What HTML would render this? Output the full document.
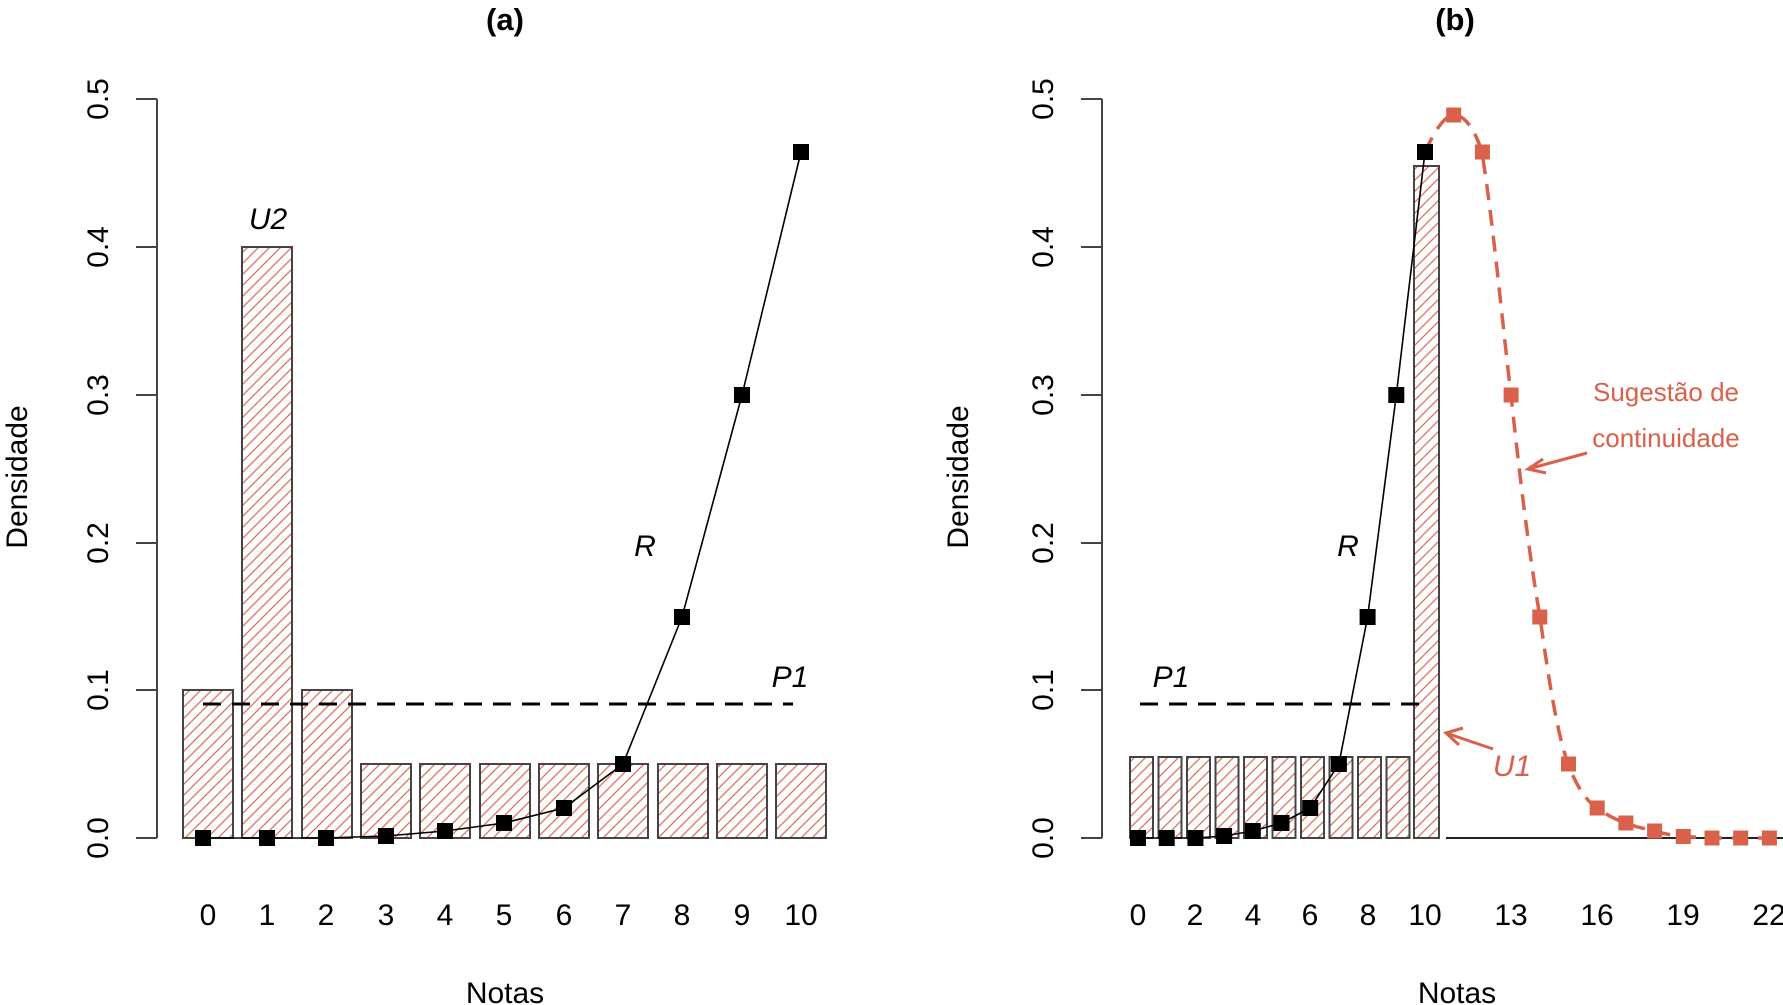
<!DOCTYPE html>
<html><head><meta charset="utf-8"><style>
html,body{margin:0;padding:0;background:#fff;}
svg{display:block;font-family:"Liberation Sans",Arial,sans-serif;}
</style></head><body>
<svg width="1783" height="1005" viewBox="0 0 1783 1005" xmlns="http://www.w3.org/2000/svg">
<defs>
<pattern id="h" patternUnits="userSpaceOnUse" width="11" height="11">
<path d="M0,11 L11,0 M-3,3 L3,-3 M8,14 L14,8" stroke="#e0705c" stroke-width="1.3"/>
</pattern>
</defs>
<!-- Panel A -->
<text x="505" y="30" font-size="31" font-weight="bold" text-anchor="middle">(a)</text>
<g stroke="#444" stroke-width="2" fill="none">
<line x1="157" y1="99" x2="157" y2="838"/>
<line x1="136" y1="838" x2="157" y2="838"/><line x1="136" y1="690" x2="157" y2="690"/>
<line x1="136" y1="543" x2="157" y2="543"/><line x1="136" y1="395" x2="157" y2="395"/>
<line x1="136" y1="247" x2="157" y2="247"/><line x1="136" y1="99" x2="157" y2="99"/>
</g>
<g font-size="30" text-anchor="middle">
<text transform="translate(108,838) rotate(-90)">0.0</text>
<text transform="translate(108,690) rotate(-90)">0.1</text>
<text transform="translate(108,543) rotate(-90)">0.2</text>
<text transform="translate(108,395) rotate(-90)">0.3</text>
<text transform="translate(108,247) rotate(-90)">0.4</text>
<text transform="translate(108,99) rotate(-90)">0.5</text>
<text transform="translate(27,477) rotate(-90)">Densidade</text>
</g>
<g fill="url(#h)" stroke="#444" stroke-width="2">
<rect x="183" y="690" width="50" height="148"/>
<rect x="242" y="247" width="50" height="591"/>
<rect x="302" y="690" width="50" height="148"/>
<rect x="361" y="764" width="50" height="74"/>
<rect x="420" y="764" width="50" height="74"/>
<rect x="480" y="764" width="50" height="74"/>
<rect x="539" y="764" width="50" height="74"/>
<rect x="598" y="764" width="50" height="74"/>
<rect x="658" y="764" width="50" height="74"/>
<rect x="717" y="764" width="50" height="74"/>
<rect x="776" y="764" width="50" height="74"/>
</g>
<line x1="203" y1="704" x2="793" y2="704" stroke="#000" stroke-width="3" stroke-dasharray="18,11"/>
<polyline fill="none" stroke="#000" stroke-width="1.6" points="203,838 267,838 326,838 386,836 445,831 504,823 564,808 623,764 682,617 742,395 801,152"/>
<g fill="#000">
<rect x="195" y="830" width="16" height="16"/><rect x="259" y="830" width="16" height="16"/>
<rect x="318" y="830" width="16" height="16"/><rect x="378" y="828" width="16" height="16"/>
<rect x="437" y="823" width="16" height="16"/><rect x="496" y="815" width="16" height="16"/>
<rect x="556" y="800" width="16" height="16"/><rect x="615" y="756" width="16" height="16"/>
<rect x="674" y="609" width="16" height="16"/><rect x="734" y="387" width="16" height="16"/>
<rect x="793" y="144" width="16" height="16"/>
</g>
<g font-size="30" font-style="italic" text-anchor="middle">
<text x="268" y="229">U2</text><text x="645" y="556">R</text><text x="790" y="687">P1</text>
</g>
<g font-size="30" text-anchor="middle">
<text x="208" y="925">0</text><text x="267" y="925">1</text><text x="326" y="925">2</text>
<text x="386" y="925">3</text><text x="445" y="925">4</text><text x="504" y="925">5</text>
<text x="564" y="925">6</text><text x="623" y="925">7</text><text x="682" y="925">8</text>
<text x="742" y="925">9</text><text x="801" y="925">10</text>
<text x="505" y="1003">Notas</text>
</g>
<!-- Panel B -->
<text x="1455" y="30" font-size="31" font-weight="bold" text-anchor="middle">(b)</text>
<g stroke="#444" stroke-width="2" fill="none">
<line x1="1102" y1="99" x2="1102" y2="838"/>
<line x1="1081" y1="838" x2="1102" y2="838"/><line x1="1081" y1="690" x2="1102" y2="690"/>
<line x1="1081" y1="543" x2="1102" y2="543"/><line x1="1081" y1="395" x2="1102" y2="395"/>
<line x1="1081" y1="247" x2="1102" y2="247"/><line x1="1081" y1="99" x2="1102" y2="99"/>
</g>
<g font-size="30" text-anchor="middle">
<text transform="translate(1053,838) rotate(-90)">0.0</text>
<text transform="translate(1053,690) rotate(-90)">0.1</text>
<text transform="translate(1053,543) rotate(-90)">0.2</text>
<text transform="translate(1053,395) rotate(-90)">0.3</text>
<text transform="translate(1053,247) rotate(-90)">0.4</text>
<text transform="translate(1053,99) rotate(-90)">0.5</text>
<text transform="translate(968,477) rotate(-90)">Densidade</text>
</g>
<g fill="url(#h)" stroke="#444" stroke-width="2">
<rect x="1130" y="757" width="23" height="81"/>
<rect x="1158.5" y="757" width="23" height="81"/>
<rect x="1187" y="757" width="23" height="81"/>
<rect x="1215.5" y="757" width="23" height="81"/>
<rect x="1244" y="757" width="23" height="81"/>
<rect x="1272.5" y="757" width="23" height="81"/>
<rect x="1301" y="757" width="23" height="81"/>
<rect x="1329.5" y="757" width="23" height="81"/>
<rect x="1358" y="757" width="23" height="81"/>
<rect x="1386.5" y="757" width="23" height="81"/>
<rect x="1414" y="166" width="25" height="672"/>
</g>
<line x1="1446" y1="838" x2="1783" y2="838" stroke="#222" stroke-width="2"/>
<line x1="1140" y1="704" x2="1425" y2="704" stroke="#000" stroke-width="3" stroke-dasharray="18,11"/>
<path fill="none" stroke="#d9604a" stroke-width="3.5" stroke-dasharray="16,10" d="M1425,152 C1435,130 1445,115 1454,115 C1465,115 1475,130 1482,152 C1494,230 1502,320 1511,395 C1520,480 1530,560 1540,617 C1550,690 1558,735 1568,764 C1578,790 1588,802 1597,808 C1607,815 1616,820 1626,823 C1636,827 1645,829 1655,831 C1665,834 1675,836 1683,836.5 L1712,838 L1769,838"/>
<polyline fill="none" stroke="#000" stroke-width="1.6" points="1138,838 1166.7,838 1195.4,838 1224.1,836 1252.8,831 1281.5,823 1310.2,808 1338.9,764 1367.6,617 1396.3,395 1425,152"/>
<g fill="#000">
<rect x="1130" y="830" width="16" height="16"/><rect x="1158.7" y="830" width="16" height="16"/>
<rect x="1187.4" y="830" width="16" height="16"/><rect x="1216.1" y="828" width="16" height="16"/>
<rect x="1244.8" y="823" width="16" height="16"/><rect x="1273.5" y="815" width="16" height="16"/>
<rect x="1302.2" y="800" width="16" height="16"/><rect x="1330.9" y="756" width="16" height="16"/>
<rect x="1359.6" y="609" width="16" height="16"/><rect x="1388.3" y="387" width="16" height="16"/>
<rect x="1417" y="144" width="16" height="16"/>
</g>
<g fill="#d9604a">
<rect x="1446.2" y="107.5" width="15" height="15"/><rect x="1474.9" y="144.5" width="15" height="15"/>
<rect x="1503.6" y="387.5" width="15" height="15"/><rect x="1532.3" y="609.5" width="15" height="15"/>
<rect x="1561" y="756.5" width="15" height="15"/><rect x="1589.7" y="800.5" width="15" height="15"/>
<rect x="1618.4" y="815.5" width="15" height="15"/><rect x="1647.1" y="823.5" width="15" height="15"/>
<rect x="1675.8" y="829" width="15" height="15"/><rect x="1704.5" y="830.5" width="15" height="15"/>
<rect x="1733.2" y="830.5" width="15" height="15"/><rect x="1761.9" y="830.5" width="15" height="15"/>
</g>
<g stroke="#d9604a" stroke-width="3" fill="none">
<line x1="1493" y1="749" x2="1446" y2="733"/><polyline points="1463,728 1446,733 1459,745"/>
<line x1="1587" y1="453" x2="1528" y2="469"/><polyline points="1543,459 1528,469 1546,473"/>
</g>
<g font-size="30" font-style="italic" text-anchor="middle">
<text x="1171" y="687">P1</text><text x="1348" y="556">R</text>
<text x="1512" y="776" fill="#d9604a">U1</text>
</g>
<g font-size="26" fill="#d9604a" text-anchor="middle">
<text x="1666" y="401">Sugestão de</text><text x="1666" y="447">continuidade</text>
</g>
<g font-size="30" text-anchor="middle">
<text x="1138" y="925">0</text><text x="1195" y="925">2</text><text x="1253" y="925">4</text>
<text x="1310" y="925">6</text><text x="1368" y="925">8</text><text x="1425" y="925">10</text>
<text x="1511" y="925">13</text><text x="1597" y="925">16</text><text x="1683" y="925">19</text>
<text x="1769" y="925">22</text>
<text x="1457" y="1003">Notas</text>
</g>
</svg>
</body></html>
